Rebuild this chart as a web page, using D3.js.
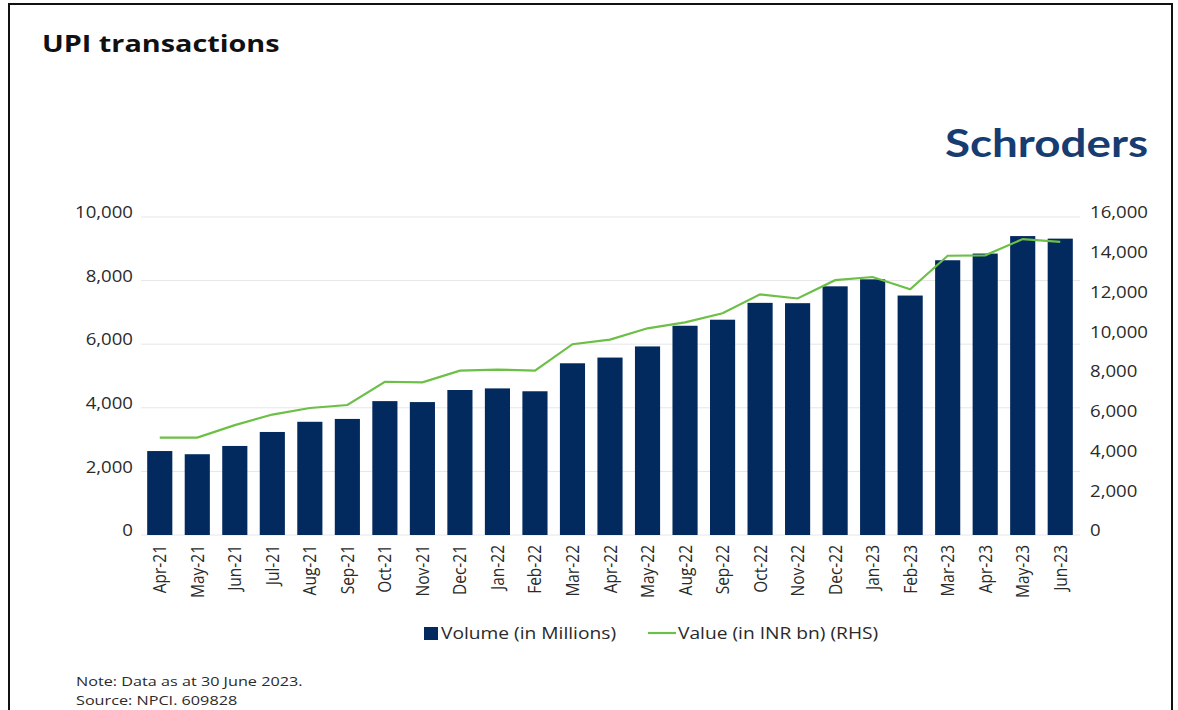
<!DOCTYPE html>
<html>
<head>
<meta charset="utf-8">
<script src="https://cdn.jsdelivr.net/npm/d3@7"></script>
<style>
  body { margin: 0; background: #fff; }
  svg { display: block; font-family: "Open Sans", "Noto Sans", sans-serif; }
</style>
</head>
<body>
<svg id="chart" width="1178" height="710"></svg>
<script>
var months = ["Apr-21","May-21","Jun-21","Jul-21","Aug-21","Sep-21","Oct-21","Nov-21","Dec-21",
  "Jan-22","Feb-22","Mar-22","Apr-22","May-22","Aug-22","Sep-22","Oct-22","Nov-22","Dec-22",
  "Jan-23","Feb-23","Mar-23","Apr-23","May-23","Jun-23"];
var volume = [2640,2540,2800,3240,3560,3650,4210,4180,4560,4610,4520,5400,5580,5930,
  6580,6770,7300,7290,7820,8040,7530,8640,8850,9400,9320];
var value = [4900,4900,5530,6060,6390,6540,7710,7680,8270,8320,8270,9600,9830,10400,
  10700,11160,12110,11900,12820,12980,12360,14050,14070,14890,14750];
var leftTicks = [0,2000,4000,6000,8000,10000];
var rightTicks = [0,2000,4000,6000,8000,10000,12000,14000,16000];

var navy = "#032a5e", green = "#6cbf47", txt = "#2a2a2a";
var stretch = 1.2; // the picture is a bit wider than tall, text looks stretched
var svg = d3.select("#chart");

// writes text widened horizontally
function wideText(x, y, size, str, weight, color){
  var g = svg.append("g").attr("transform", "translate(" + x + "," + y + ") scale(" + stretch + ",1)");
  g.append("text").attr("font-size", size).attr("font-weight", weight || 400)
    .attr("fill", color || txt).text(str);
  return g;
}

// frame
svg.append("rect").attr("x", 9).attr("y", 4).attr("width", 1163).attr("height", 730)
  .attr("fill", "none").attr("stroke", "#111").attr("stroke-width", 2);

wideText(42, 52, 24, "UPI transactions", 700, "#111");

svg.append("text").attr("x", 945).attr("y", 157)
  .attr("font-size", 39).attr("font-weight", 700).attr("fill", "#173c72")
  .attr("font-family", "Lato, sans-serif")
  .attr("textLength", 203).attr("lengthAdjust", "spacingAndGlyphs")
  .text("Schroders");

var x = d3.scaleBand().domain(months).range([141, 1079]).paddingInner(0.33).paddingOuter(0.165);
var yL = d3.scaleLinear().domain([0, 10000]).range([535, 217]);
var yR = d3.scaleLinear().domain([0, 16000]).range([535, 217]);

// gridlines
svg.append("g").selectAll("line").data(leftTicks).enter().append("line")
  .attr("x1", 141).attr("x2", 1080)
  .attr("y1", d => yL(d)).attr("y2", d => yL(d))
  .attr("stroke", "#e6e6e6").attr("stroke-width", 1);

// left axis
var axL = svg.append("g").attr("transform", "translate(133,0)")
  .call(d3.axisLeft(yL).tickValues(leftTicks).tickSize(0).tickPadding(0).tickFormat(d3.format(",")));
axL.select(".domain").remove();
axL.selectAll("text").attr("font-size", 15.5).attr("fill", txt).attr("dy", "0.05em")
  .attr("font-weight", 500).attr("transform", "scale(" + stretch + ",1)")
  .attr("font-family", "Open Sans, sans-serif");

// right axis
var axR = svg.append("g").attr("transform", "translate(1090,0)")
  .call(d3.axisRight(yR).tickValues(rightTicks).tickSize(0).tickPadding(0).tickFormat(d3.format(",")));
axR.select(".domain").remove();
axR.selectAll("text").attr("font-size", 15.5).attr("fill", txt).attr("dy", "0.05em")
  .attr("font-weight", 500).attr("transform", "scale(" + stretch + ",1)")
  .attr("font-family", "Open Sans, sans-serif");

// bars
svg.append("g").selectAll("rect").data(volume).enter().append("rect")
  .attr("x", (d, i) => x(months[i]))
  .attr("width", x.bandwidth())
  .attr("y", d => yL(d))
  .attr("height", d => yL(0) - yL(d))
  .attr("fill", navy);

// line
var line = d3.line()
  .x((d, i) => x(months[i]) + x.bandwidth() / 2)
  .y(d => yR(d));
svg.append("path").datum(value).attr("d", line)
  .attr("fill", "none").attr("stroke", green).attr("stroke-width", 2.2);

// x labels
var axX = svg.append("g").attr("transform", "translate(0,541)")
  .call(d3.axisBottom(x).tickSize(0).tickPadding(0));
axX.select(".domain").remove();
axX.selectAll("text")
  .attr("transform", "scale(" + stretch + ",1) rotate(-90)")
  .attr("text-anchor", "end")
  .attr("x", -4).attr("y", 0).attr("dy", "0.35em")
  .attr("font-size", 15.5).attr("font-weight", 500).attr("fill", txt)
  .attr("font-family", "Open Sans, sans-serif");

// legend
var lg = svg.append("g");
lg.append("rect").attr("x", 424).attr("y", 627).attr("width", 14).attr("height", 13).attr("fill", navy);
wideText(441, 639, 16, "Volume (in Millions)", 500);
lg.append("line").attr("x1", 648).attr("x2", 676).attr("y1", 633).attr("y2", 633)
  .attr("stroke", green).attr("stroke-width", 2.2);
wideText(678, 639, 16, "Value (in INR bn) (RHS)", 500);

// notes
wideText(76, 686, 13.5, "Note: Data as at 30 June 2023.");
wideText(76, 705, 13.5, "Source: NPCI. 609828");
</script>
</body>
</html>
